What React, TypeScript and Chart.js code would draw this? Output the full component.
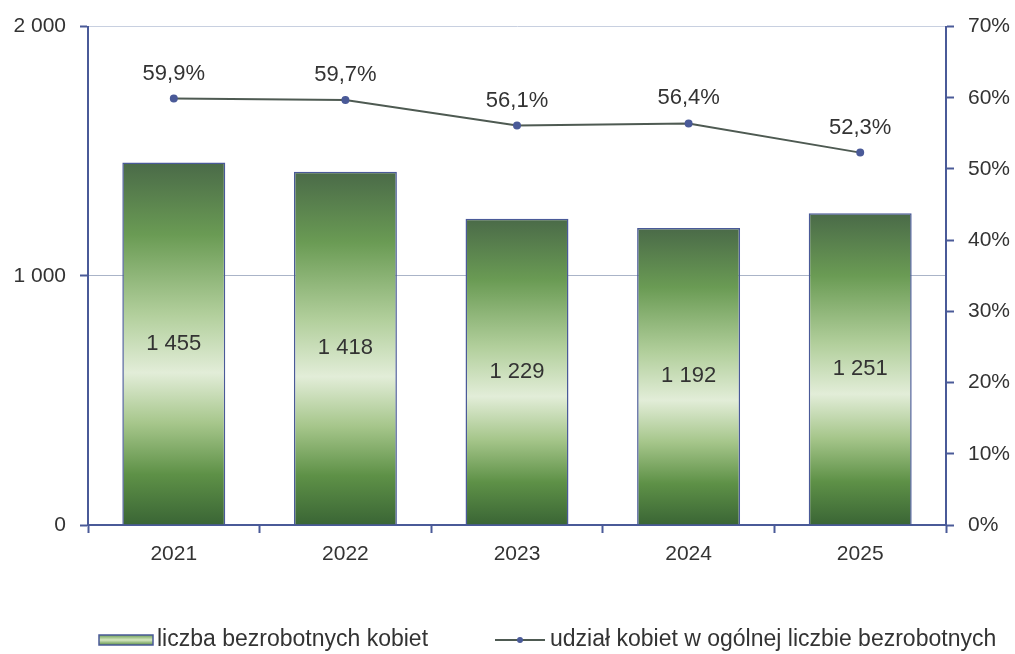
import React, { useEffect, useRef } from "react";
import { Chart, registerables } from "chart.js";

Chart.register(...registerables);

const years = ["2021", "2022", "2023", "2024", "2025"];
const unemployedWomen = [1455, 1418, 1229, 1192, 1251];
const womenShare = [59.9, 59.7, 56.1, 56.4, 52.3];
const barLegend = "liczba bezrobotnych kobiet";
const lineLegend = "udział kobiet w ogólnej liczbie bezrobotnych";

const FONT = '"Liberation Sans", Arial, sans-serif';
const NAVY = "#4a5a98";
const TEXT = "#333333";

function fmtThousands(v: number): string {
  return String(Math.round(v)).replace(/\B(?=(\d{3})+(?!\d))/g, " ");
}

function barGradient(ctx: CanvasRenderingContext2D, top: number, bottom: number) {
  const g = ctx.createLinearGradient(0, top, 0, bottom);
  g.addColorStop(0, "#4a6a48");
  g.addColorStop(0.2, "#6a9b54");
  g.addColorStop(0.42, "#b2cf9c");
  g.addColorStop(0.58, "#e2edd8");
  g.addColorStop(0.72, "#a6c68b");
  g.addColorStop(0.86, "#5e9147");
  g.addColorStop(1, "#3a6535");
  return g;
}

const labelsPlugin = {
  id: "valueLabels",
  afterDatasetsDraw(chart: any) {
    const ctx = chart.ctx;
    ctx.save();
    ctx.fillStyle = TEXT;
    ctx.font = `22px ${FONT}`;
    ctx.textAlign = "center";
    ctx.textBaseline = "middle";
    const barMeta = chart.getDatasetMeta(0);
    barMeta.data.forEach((el: any, i: number) => {
      ctx.fillText(fmtThousands(unemployedWomen[i]), el.x, (el.y + el.base) / 2);
    });
    const lineMeta = chart.getDatasetMeta(1);
    lineMeta.data.forEach((el: any, i: number) => {
      ctx.fillText(womenShare[i].toFixed(1).replace(".", ",") + "%", el.x, el.y - 25);
    });
    ctx.restore();
  },
  afterDraw(chart: any) {
    const ctx = chart.ctx;
    const y = 640;
    ctx.save();
    const bx = 99, bw = 54, bh = 10;
    const g = ctx.createLinearGradient(0, y - bh / 2, 0, y + bh / 2);
    g.addColorStop(0, "#6f9f57");
    g.addColorStop(0.5, "#d6e8c2");
    g.addColorStop(1, "#5e9147");
    ctx.fillStyle = g;
    ctx.fillRect(bx, y - bh / 2, bw, bh);
    ctx.strokeStyle = NAVY;
    ctx.lineWidth = 1.5;
    ctx.strokeRect(bx, y - bh / 2, bw, bh);
    ctx.fillStyle = TEXT;
    ctx.font = `23px ${FONT}`;
    ctx.textAlign = "left";
    ctx.textBaseline = "middle";
    ctx.fillText(barLegend, 157, y);
    ctx.strokeStyle = "#4e5a52";
    ctx.lineWidth = 2;
    ctx.beginPath();
    ctx.moveTo(495, y);
    ctx.lineTo(545, y);
    ctx.stroke();
    ctx.fillStyle = NAVY;
    ctx.beginPath();
    ctx.arc(520, y, 3, 0, Math.PI * 2);
    ctx.fill();
    ctx.fillStyle = TEXT;
    ctx.fillText(lineLegend, 550, y);
    ctx.restore();
  },
};

export default function App() {
  const ref = useRef<HTMLCanvasElement>(null);
  useEffect(() => {
    if (!ref.current) return;
    const chart = new Chart(ref.current, {
      type: "bar",
      data: {
        labels: years,
        datasets: [
          {
            type: "bar",
            label: barLegend,
            data: unemployedWomen,
            yAxisID: "y",
            order: 2,
            backgroundColor: (c: any) => {
              const ch = c.chart;
              const ys = ch.scales && ch.scales.y;
              if (!ys || c.raw == null) return "#6f9f57";
              const top = ys.getPixelForValue(c.raw);
              const bottom = ys.getPixelForValue(0);
              if (!isFinite(top) || !isFinite(bottom) || top === bottom) return "#6f9f57";
              return barGradient(ch.ctx, top, bottom);
            },
            borderColor: NAVY,
            borderWidth: 1.5,
            barPercentage: 0.6,
            categoryPercentage: 1,
          },
          {
            type: "line",
            label: lineLegend,
            data: womenShare,
            yAxisID: "y1",
            order: 1,
            borderColor: "#4e5a52",
            borderWidth: 2,
            pointRadius: 3,
            pointBackgroundColor: NAVY,
            pointBorderColor: NAVY,
            tension: 0,
          },
        ] as any,
      },
      options: {
        responsive: false,
        animation: false,
        layout: { padding: { top: 26, bottom: 0, left: 0, right: 0 } },
        plugins: { legend: { display: false }, tooltip: { enabled: false } },
        scales: {
          x: {
            grid: { offset: true, drawOnChartArea: false, tickLength: 8, tickColor: NAVY, tickWidth: 2 },
            border: { color: NAVY, width: 2 },
            ticks: { color: TEXT, font: { family: FONT, size: 21 }, padding: 9 },
            afterFit: (s: any) => { s.height = 129; },
          },
          y: {
            position: "left",
            min: 0,
            max: 2000,
            ticks: {
              stepSize: 1000,
              color: TEXT,
              font: { family: FONT, size: 21 },
              padding: 14,
              callback: (v: any) => fmtThousands(Number(v)),
            },
            grid: {
              color: (c: any) => (c.tick && c.tick.value === 2000 ? "#c8d0e0" : "#aab4c8"),
              lineWidth: 1,
              tickLength: 8,
              tickColor: NAVY,
              tickWidth: 2,
            },
            border: { color: NAVY, width: 2 },
            afterFit: (s: any) => { s.width = 88; },
          },
          y1: {
            position: "right",
            min: 0,
            max: 70,
            ticks: {
              stepSize: 10,
              color: TEXT,
              font: { family: FONT, size: 21 },
              padding: 14,
              callback: (v: any) => `${v}%`,
            },
            grid: { drawOnChartArea: false, tickLength: 8, tickColor: NAVY, tickWidth: 2 },
            border: { color: NAVY, width: 2 },
            afterFit: (s: any) => { s.width = 69; },
          },
        },
      } as any,
      plugins: [labelsPlugin],
    });
    return () => chart.destroy();
  }, []);
  return (
    <div style={{ position: "absolute", left: 0, top: 0, width: 1015, height: 654, background: "#fff" }}>
      <canvas ref={ref} width={1015} height={654} />
    </div>
  );
}
